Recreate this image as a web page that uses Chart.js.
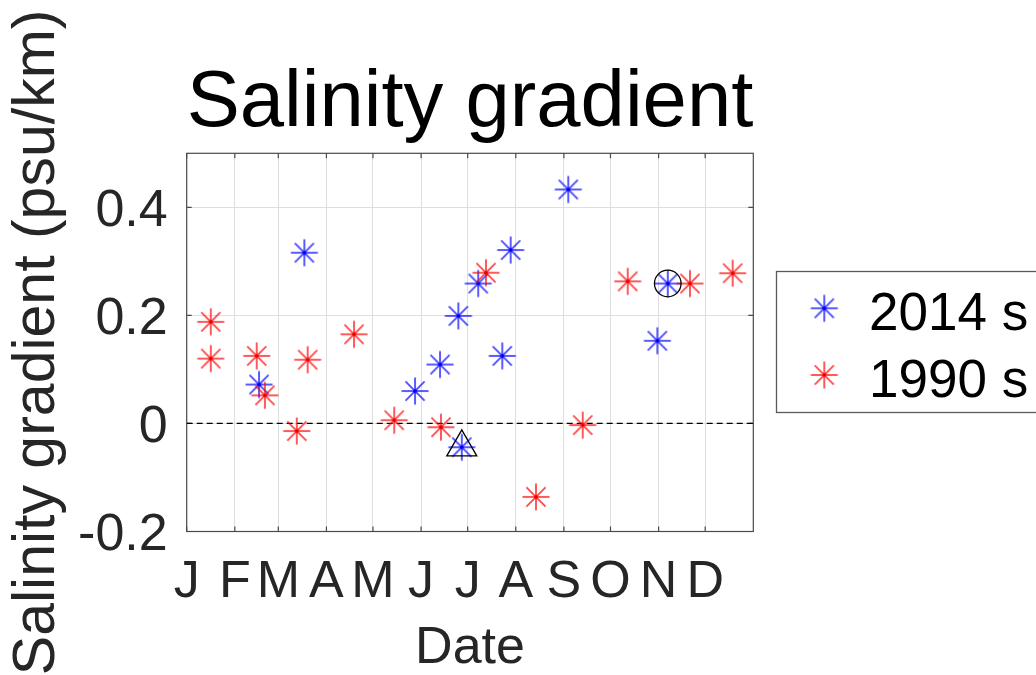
<!DOCTYPE html>
<html>
<head>
<meta charset="utf-8">
<script src="https://cdn.jsdelivr.net/npm/chart.js@4.4.1/dist/chart.umd.min.js"></script>
<style>
  html, body { margin: 0; padding: 0; background: #fff; overflow: hidden; }
  #wrap { width: 1036px; height: 675px; position: relative; }
</style>
</head>
<body>
<div id="wrap"><canvas id="c" width="1036" height="675"></canvas></div>
<script>
// Survey day of year (0 = 1 January) and along-channel salinity gradient (psu/km)
const days2014 = [46.6, 75.8, 147.1, 163.2, 175.0, 177.2, 187.8, 203.3, 208.7, 245.8, 303.2, 309.9];
const grad2014 = [0.072, 0.316, 0.060, 0.109, 0.199, -0.044, 0.259, 0.125, 0.321, 0.433, 0.153, 0.259];
const days1990 = [15.5, 15.5, 45.1, 50.4, 70.9, 77.9, 107.8, 133.7, 163.8, 192.8, 225.0, 255.1, 284.1, 324.2, 351.7];
const grad1990 = [0.188, 0.120, 0.125, 0.052, -0.014, 0.118, 0.165, 0.006, -0.007, 0.279, -0.136, -0.003, 0.263, 0.259, 0.278];

// Highlighted surveys (triangle and circle outlines)
const triangleDays = [177.2];
const triangleGrad = [-0.044];
const circleDays = [309.9];
const circleGrad = [0.259];

// Zero reference line end points (whole year)
const zeroLineDays = [0, 365];

// Axis ticks
const monthStarts = [0, 31, 59, 90, 120, 151, 181, 212, 243, 273, 304, 334];
const monthLabels = ['J', 'F', 'M', 'A', 'M', 'J', 'J', 'A', 'S', 'O', 'N', 'D'];
const yTickValues = [-0.2, 0, 0.2, 0.4];
const yTickLabels = ['-0.2', '0', '0.2', '0.4'];

const seriesLabels = ['2014 s', '1990 s'];

const FONT = '"Liberation Sans", Arial, Helvetica, sans-serif';
const AXIS_COLOR = '#262626';

function pts(xs, ys) { return xs.map((x, i) => ({ x: x, y: ys[i] })); }

// Asterisk marker: four strokes through the centre plus a small centre dot
function asterisk(color, dot) {
  const size = 32, m = size / 2, r = 13.5;
  const c = document.createElement('canvas');
  c.width = size; c.height = size;
  const g = c.getContext('2d');
  g.strokeStyle = color;
  g.lineWidth = 1.8;
  for (let k = 0; k < 4; k++) {
    const a = k * Math.PI / 4;
    g.beginPath();
    g.moveTo(m - r * Math.cos(a), m - r * Math.sin(a));
    g.lineTo(m + r * Math.cos(a), m + r * Math.sin(a));
    g.stroke();
  }
  g.fillStyle = dot;
  g.beginPath();
  g.arc(m, m, 1.8, 0, Math.PI * 2);
  g.fill();
  return c;
}

const blueStar = asterisk('rgba(0,0,255,0.72)', 'rgb(0,0,230)');
const redStar = asterisk('rgba(255,0,0,0.72)', 'rgb(230,0,0)');

// Axes box with inward tick marks on all four sides
const framePlugin = {
  id: 'frame',
  beforeDatasetsDraw(chart) {
    const { ctx, chartArea: a, scales } = chart;
    ctx.save();
    ctx.strokeStyle = '#4a4a4a';
    ctx.lineWidth = 1.2;
    ctx.strokeRect(a.left, a.top, a.right - a.left, a.bottom - a.top);
    const tl = 5;
    ctx.beginPath();
    scales.x.ticks.forEach(t => {
      const px = scales.x.getPixelForValue(t.value);
      ctx.moveTo(px, a.bottom); ctx.lineTo(px, a.bottom - tl);
      ctx.moveTo(px, a.top); ctx.lineTo(px, a.top + tl);
    });
    scales.y.ticks.forEach(t => {
      const py = scales.y.getPixelForValue(t.value);
      ctx.moveTo(a.left, py); ctx.lineTo(a.left + tl, py);
      ctx.moveTo(a.right, py); ctx.lineTo(a.right - tl, py);
    });
    ctx.stroke();
    ctx.restore();
  }
};

// Boxed legend to the right of the axes, entries in series order
const legendPlugin = {
  id: 'boxLegend',
  afterDraw(chart) {
    const { ctx } = chart;
    const entries = seriesLabels.map(l => chart.data.datasets.find(d => d.label === l));
    ctx.save();
    ctx.strokeStyle = '#5a5a5a';
    ctx.lineWidth = 1.3;
    ctx.strokeRect(776.5, 271.5, 300, 141);
    ctx.font = '53px ' + FONT;
    ctx.fillStyle = '#000';
    ctx.textBaseline = 'alphabetic';
    ctx.textAlign = 'left';
    entries.forEach((d, i) => {
      const cy = 308.3 + i * 66.7;
      const img = d.pointStyle;
      ctx.drawImage(img, 824.3 - img.width / 2, cy - img.height / 2);
      ctx.fillText(d.label, 869, cy + 21.7);
    });
    ctx.restore();
  }
};

new Chart(document.getElementById('c'), {
  type: 'scatter',
  data: {
    datasets: [
      {
        label: 'triangle', data: pts(triangleDays, triangleGrad),
        pointStyle: 'triangle', pointRadius: 17.3, pointHoverRadius: 17.3,
        borderColor: '#000', backgroundColor: 'rgba(0,0,0,0)', borderWidth: 1.3
      },
      {
        label: 'circle', data: pts(circleDays, circleGrad),
        pointStyle: 'circle', pointRadius: 13.3, pointHoverRadius: 13.3,
        borderColor: '#000', backgroundColor: 'rgba(0,0,0,0)', borderWidth: 1.3
      },
      {
        label: seriesLabels[1], data: pts(days1990, grad1990),
        pointStyle: redStar, pointRadius: 14, borderColor: 'red', backgroundColor: 'red'
      },
      {
        label: seriesLabels[0], data: pts(days2014, grad2014),
        pointStyle: blueStar, pointRadius: 14, borderColor: 'blue', backgroundColor: 'blue'
      },
      {
        label: 'zero', data: pts(zeroLineDays, [0, 0]), showLine: true,
        pointRadius: 0, pointHoverRadius: 0,
        borderColor: '#000', borderWidth: 1.3, borderDash: [6, 4]
      }
    ]
  },
  options: {
    responsive: false,
    animation: false,
    events: [],
    layout: { padding: { left: 0, right: 282.7, top: 0, bottom: 0 } },
    plugins: {
      legend: { display: false },
      tooltip: { enabled: false },
      title: {
        display: true, text: 'Salinity gradient', fullSize: false,
        color: '#000', font: { family: FONT, size: 80, weight: 'normal', lineHeight: 1.2 },
        padding: { top: 56, bottom: 1.3 }
      }
    },
    scales: {
      x: {
        type: 'linear', min: 0, max: 365,
        afterBuildTicks: s => { s.ticks = monthStarts.map(v => ({ value: v })); },
        afterFit: s => { s.height = 143.5; },
        ticks: {
          callback: v => monthLabels[monthStarts.indexOf(v)],
          autoSkip: false, maxRotation: 0, minRotation: 0,
          color: AXIS_COLOR, padding: 20,
          font: { family: FONT, size: 52 }
        },
        grid: { color: '#dedede', lineWidth: 1, drawTicks: false },
        border: { display: false },
        title: {
          display: true, text: 'Date', color: AXIS_COLOR, padding: 0,
          font: { family: FONT, size: 52, lineHeight: 1 }
        }
      },
      y: {
        type: 'linear', min: -0.2, max: 0.5,
        afterBuildTicks: s => { s.ticks = yTickValues.map(v => ({ value: v })); },
        afterFit: s => { s.width = 186.7; },
        ticks: {
          callback: v => yTickLabels[yTickValues.indexOf(v)],
          color: AXIS_COLOR, padding: 19, labelOffset: 4,
          font: { family: FONT, size: 52 }
        },
        grid: { color: '#dedede', lineWidth: 1, drawTicks: false },
        border: { display: false },
        title: {
          display: true, text: 'Salinity gradient (psu/km)', color: AXIS_COLOR,
          padding: { top: 8.4, bottom: 0 },
          font: { family: FONT, size: 59, lineHeight: 1 }
        }
      }
    }
  },
  plugins: [framePlugin, legendPlugin]
});
</script>
</body>
</html>
